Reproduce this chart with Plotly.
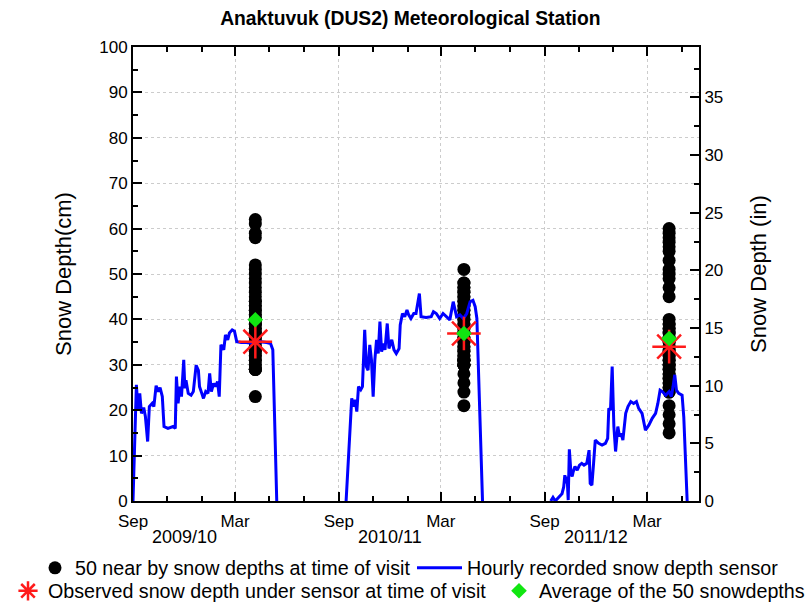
import numpy as np
import plotly.graph_objects as go

CM_PER_IN = 2.54

# ---- hourly sensor record (cm), one list per snow season ----
s1_dates = ["2009-09-01", "2009-09-07", "2009-09-10", "2009-09-13", "2009-09-16", "2009-09-20",
            "2009-09-23", "2009-09-27", "2009-09-30", "2009-10-05", "2009-10-08", "2009-10-12",
            "2009-10-16", "2009-10-19", "2009-10-23", "2009-10-26", "2009-11-02", "2009-11-11",
            "2009-11-15", "2009-11-17", "2009-11-20", "2009-11-23", "2009-11-26", "2009-11-30",
            "2009-12-02", "2009-12-04", "2009-12-08", "2009-12-13", "2009-12-17", "2009-12-22",
            "2009-12-26", "2009-12-28", "2010-01-01", "2010-01-04", "2010-01-08", "2010-01-12",
            "2010-01-15", "2010-01-18", "2010-01-22", "2010-01-25", "2010-01-29", "2010-02-01",
            "2010-02-04", "2010-02-09", "2010-02-12", "2010-02-16", "2010-02-19", "2010-02-24",
            "2010-02-28", "2010-03-04", "2010-03-12", "2010-03-21", "2010-04-02", "2010-04-14",
            "2010-04-26", "2010-05-03", "2010-05-07", "2010-05-10", "2010-05-14"]
s1_depth = [0, 25.6, 20.0, 23.7, 19.3, 20.6,
            18.6, 13.1, 20.8, 21.5, 20.8, 25.4,
            24.1, 25.0, 23.0, 16.4, 16.0, 16.4,
            16.0, 27.4, 21.5, 25.2, 23.0, 31.1,
            24.8, 26.6, 23.7, 23.3, 24.1, 29.9,
            28.8, 25.2, 23.7, 22.6, 24.1, 23.7,
            28.1, 24.1, 25.9, 25.2, 26.3, 23.0,
            34.4, 33.3, 36.6, 35.5, 37.0, 37.7,
            37.4, 35.1, 34.9, 34.9, 34.7, 35.1,
            34.9, 34.7, 33.3, 20.8, 0]

s2_dates = ["2010-09-14", "2010-09-22", "2010-09-24", "2010-09-27", "2010-09-30", "2010-10-03",
            "2010-10-06", "2010-10-10", "2010-10-13", "2010-10-17", "2010-10-20", "2010-10-23",
            "2010-10-26", "2010-10-29", "2010-11-01", "2010-11-04", "2010-11-07", "2010-11-10",
            "2010-11-13", "2010-11-16", "2010-11-19", "2010-11-22", "2010-11-26", "2010-11-29",
            "2010-12-04", "2010-12-08", "2010-12-12", "2010-12-17", "2010-12-19", "2010-12-23",
            "2010-12-27", "2010-12-31", "2011-01-03", "2011-01-07", "2011-01-12", "2011-01-16",
            "2011-01-19", "2011-01-22", "2011-01-25", "2011-02-03", "2011-02-12", "2011-02-16",
            "2011-02-21", "2011-02-27", "2011-03-05", "2011-03-11", "2011-03-17", "2011-03-23",
            "2011-03-29", "2011-04-04", "2011-04-10", "2011-04-16", "2011-04-22", "2011-04-27",
            "2011-05-01", "2011-05-04", "2011-05-08", "2011-05-14"]
s2_depth = [0, 20.0, 22.6, 20.8, 22.3, 19.7,
            25.2, 24.5, 25.2, 37.7, 29.6, 28.8,
            34.4, 31.1, 23.0, 31.1, 35.5, 32.5,
            39.5, 32.9, 34.7, 33.3, 39.1, 33.6,
            35.5, 33.3, 32.5, 33.6, 38.8, 41.3,
            40.6, 42.1, 41.0, 40.2, 41.3, 41.3,
            43.5, 45.7, 40.6, 40.4, 40.6, 41.7,
            41.3, 40.2, 41.3, 40.6, 39.9, 43.9,
            40.6, 41.0, 40.2, 41.3, 43.9, 44.2,
            42.8, 40.2, 23.7, 0]

s3_dates = ["2011-09-12", "2011-09-16", "2011-09-20", "2011-09-26", "2011-10-02", "2011-10-05",
            "2011-10-07", "2011-10-09", "2011-10-11", "2011-10-13", "2011-10-15", "2011-10-18",
            "2011-10-20", "2011-10-22", "2011-10-25", "2011-10-29", "2011-11-02", "2011-11-06",
            "2011-11-10", "2011-11-15", "2011-11-19", "2011-11-21", "2011-11-24", "2011-11-27",
            "2011-11-30", "2011-12-06", "2011-12-12", "2011-12-18", "2011-12-22", "2011-12-24",
            "2011-12-27", "2011-12-30", "2012-01-02", "2012-01-05", "2012-01-09", "2012-01-12",
            "2012-01-15", "2012-01-18", "2012-01-23", "2012-01-27", "2012-02-01", "2012-02-06",
            "2012-02-11", "2012-02-15", "2012-02-21", "2012-02-27", "2012-03-04", "2012-03-10",
            "2012-03-16", "2012-03-20", "2012-03-24", "2012-03-28", "2012-04-03", "2012-04-09",
            "2012-04-13", "2012-04-16", "2012-04-19", "2012-04-22", "2012-04-26", "2012-05-02",
            "2012-05-05", "2012-05-11"]
s3_depth = [0, 0.8, 0, 0.8, 1.6, 3.1,
            5.7, 3.9, 5.4, 0.2, 11.4, 6.0,
            5.4, 6.5, 7.6, 6.8, 7.9, 8.3,
            7.9, 8.3, 11.2, 3.9, 3.5, 8.3,
            13.4, 12.7, 12.3, 12.7, 13.8, 20.4,
            20.0, 29.6, 16.4, 10.9, 16.4, 14.2,
            14.9, 13.4, 19.3, 20.8, 21.9, 21.5,
            21.9, 20.4, 19.3, 15.6, 16.7, 18.2,
            19.3, 21.5, 24.4, 24.1, 23.3, 24.1,
            23.0, 25.2, 27.8, 24.4, 23.7, 23.3,
            18.5, 0]

# ---- site visits: 50 probe depths around the sensor (cm) ----
visit_dates = ["2010-04-06", "2011-04-11", "2012-04-09"]
probe_2010 = [62, 61, 59, 58,
              52, 51, 50, 49, 48, 47, 46, 45, 44, 44, 43, 43, 42, 42, 41, 41,
              40, 40, 40, 40, 39, 39, 39, 38, 38, 37, 37, 36, 36, 35, 35, 34,
              34, 33, 33, 32, 32, 31, 31, 30, 30, 29, 29, 29, 29,
              23]
probe_2011 = [51,
              48, 48, 47, 47, 46, 46, 45, 45, 44, 44, 43, 43, 42, 42, 41, 41, 40, 40,
              39, 39, 38, 38, 37, 37, 36, 36, 35, 35, 34, 34, 33, 33, 32, 32,
              31, 31, 31, 31, 31, 30, 30, 30, 30, 30, 30,
              28, 26, 24, 21]
probe_2012 = [60, 59, 58, 57, 56, 55, 53, 51, 50, 49, 47,
              45,
              40, 39, 39, 38, 38, 37, 37, 36, 36, 35, 35, 34, 34, 33, 33, 32, 32,
              31, 31, 30, 30, 30, 29, 29, 28, 28, 27, 27, 26, 26, 25, 25, 24, 24,
              21, 19, 17, 15]
sensor_at_visit = [35.1, 36.9, 34.0]

season_labels = ["2009/10", "2010/11", "2011/12"]
season_label_dates = ["2009-12-01", "2010-12-01", "2011-12-01"]

FONT = "Liberation Sans, Arial, sans-serif"

# sensor line: the three seasons joined with gaps between them
line_x = s1_dates + [None] + s2_dates + [None] + s3_dates
line_y = s1_depth + [None] + s2_depth + [None] + s3_depth

probes = [probe_2010, probe_2011, probe_2012]
probe_x = [d for d, p in zip(visit_dates, probes) for _ in p]
probe_y = [v for p in probes for v in p]
probe_mean = [float(np.mean(p)) for p in probes]

fig = go.Figure()
fig.add_trace(go.Scatter(
    x=probe_x, y=probe_y, mode="markers",
    marker=dict(size=13, color="black"),
    name="50 near by snow depths at time of visit", legend="legend"))
fig.add_trace(go.Scatter(
    x=line_x, y=line_y, mode="lines", connectgaps=False,
    line=dict(color="#0000ff", width=3),
    name="Hourly recorded snow depth sensor", legend="legend2"))
fig.add_trace(go.Scatter(
    x=visit_dates, y=sensor_at_visit, mode="markers",
    marker=dict(symbol="asterisk-open", size=28, color="#ff1a1a",
                line=dict(color="#ff1a1a", width=2.5)),
    name="Observed snow depth under sensor at time of visit", legend="legend3"))
fig.add_trace(go.Scatter(
    x=visit_dates, y=probe_mean, mode="markers",
    marker=dict(symbol="diamond", size=12, color="#11e611"),
    name="Average of the 50 snowdepths", legend="legend4"))
# empty trace that attaches the inch scale on the right
fig.add_trace(go.Scatter(x=[], y=[], yaxis="y2", showlegend=False, hoverinfo="skip"))

for lab, d in zip(season_labels, season_label_dates):
    fig.add_annotation(x=d, xref="x", y=-0.08, yref="paper", text=lab,
                       showarrow=False, xanchor="center", yanchor="middle",
                       font=dict(size=18, family=FONT, color="black"))

axis_common = dict(
    showline=True, linecolor="black", linewidth=2,
    ticks="inside", ticklen=9, tickwidth=1.5, tickcolor="black",
    tickfont=dict(size=17, family=FONT, color="black"),
    zeroline=False,
)

legend_common = dict(orientation="h", xanchor="left", yanchor="middle",
                     bgcolor="rgba(0,0,0,0)",
                     font=dict(size=19.7, family=FONT, color="black"))

fig.update_layout(
    width=811, height=607,
    margin=dict(l=133, r=112, t=47, b=106, autoexpand=False),
    paper_bgcolor="white", plot_bgcolor="white",
    font=dict(family=FONT, size=17, color="black"),
    title=dict(text="Anaktuvuk (DUS2) Meteorological Station",
               x=0.49, xref="paper", xanchor="center",
               y=1 - 18 / 607, yref="container", yanchor="middle",
               font=dict(size=19.3, family=FONT, color="black", weight="bold")),
    showlegend=True,
    xaxis=dict(
        type="date", range=["2009-09-01", "2012-06-01"],
        tick0="2009-09-01", dtick="M6", tickformat="%b",
        mirror="ticks", ticklabelstandoff=4,
        showgrid=True, gridcolor="#cccccc", griddash="dot", gridwidth=1,
        minor=dict(tick0="2009-09-01", dtick="M2", ticks="inside", ticklen=5,
                   tickwidth=1.5, tickcolor="black", showgrid=False),
        **axis_common),
    yaxis=dict(
        range=[0, 100], dtick=10,
        showgrid=True, gridcolor="#cccccc", griddash="dot", gridwidth=1,
        minor=dict(dtick=5, ticks="inside", ticklen=5, tickwidth=1.5,
                   tickcolor="black", showgrid=False),
        title=dict(text="Snow Depth(cm)", standoff=22,
                   font=dict(size=22, family=FONT, color="black")),
        **axis_common),
    yaxis2=dict(
        overlaying="y", side="right", anchor="x",
        range=[0, 100 / CM_PER_IN], dtick=5, showgrid=False,
        minor=dict(dtick=2.5, ticks="inside", ticklen=5, tickwidth=1.5,
                   tickcolor="black", showgrid=False),
        title=dict(text="Snow Depth (in)", standoff=28,
                   font=dict(size=22, family=FONT, color="black")),
        **axis_common),
    legend=dict(x=(35 - 133) / 566, y=(501 - 568) / 454, **legend_common),
    legend2=dict(x=(412 - 133) / 566, y=(501 - 568) / 454, itemwidth=45, **legend_common),
    legend3=dict(x=(8 - 133) / 566, y=(501 - 591) / 454, **legend_common),
    legend4=dict(x=(499 - 133) / 566, y=(501 - 591) / 454, **legend_common),
)

fig.write_html("out.html")
